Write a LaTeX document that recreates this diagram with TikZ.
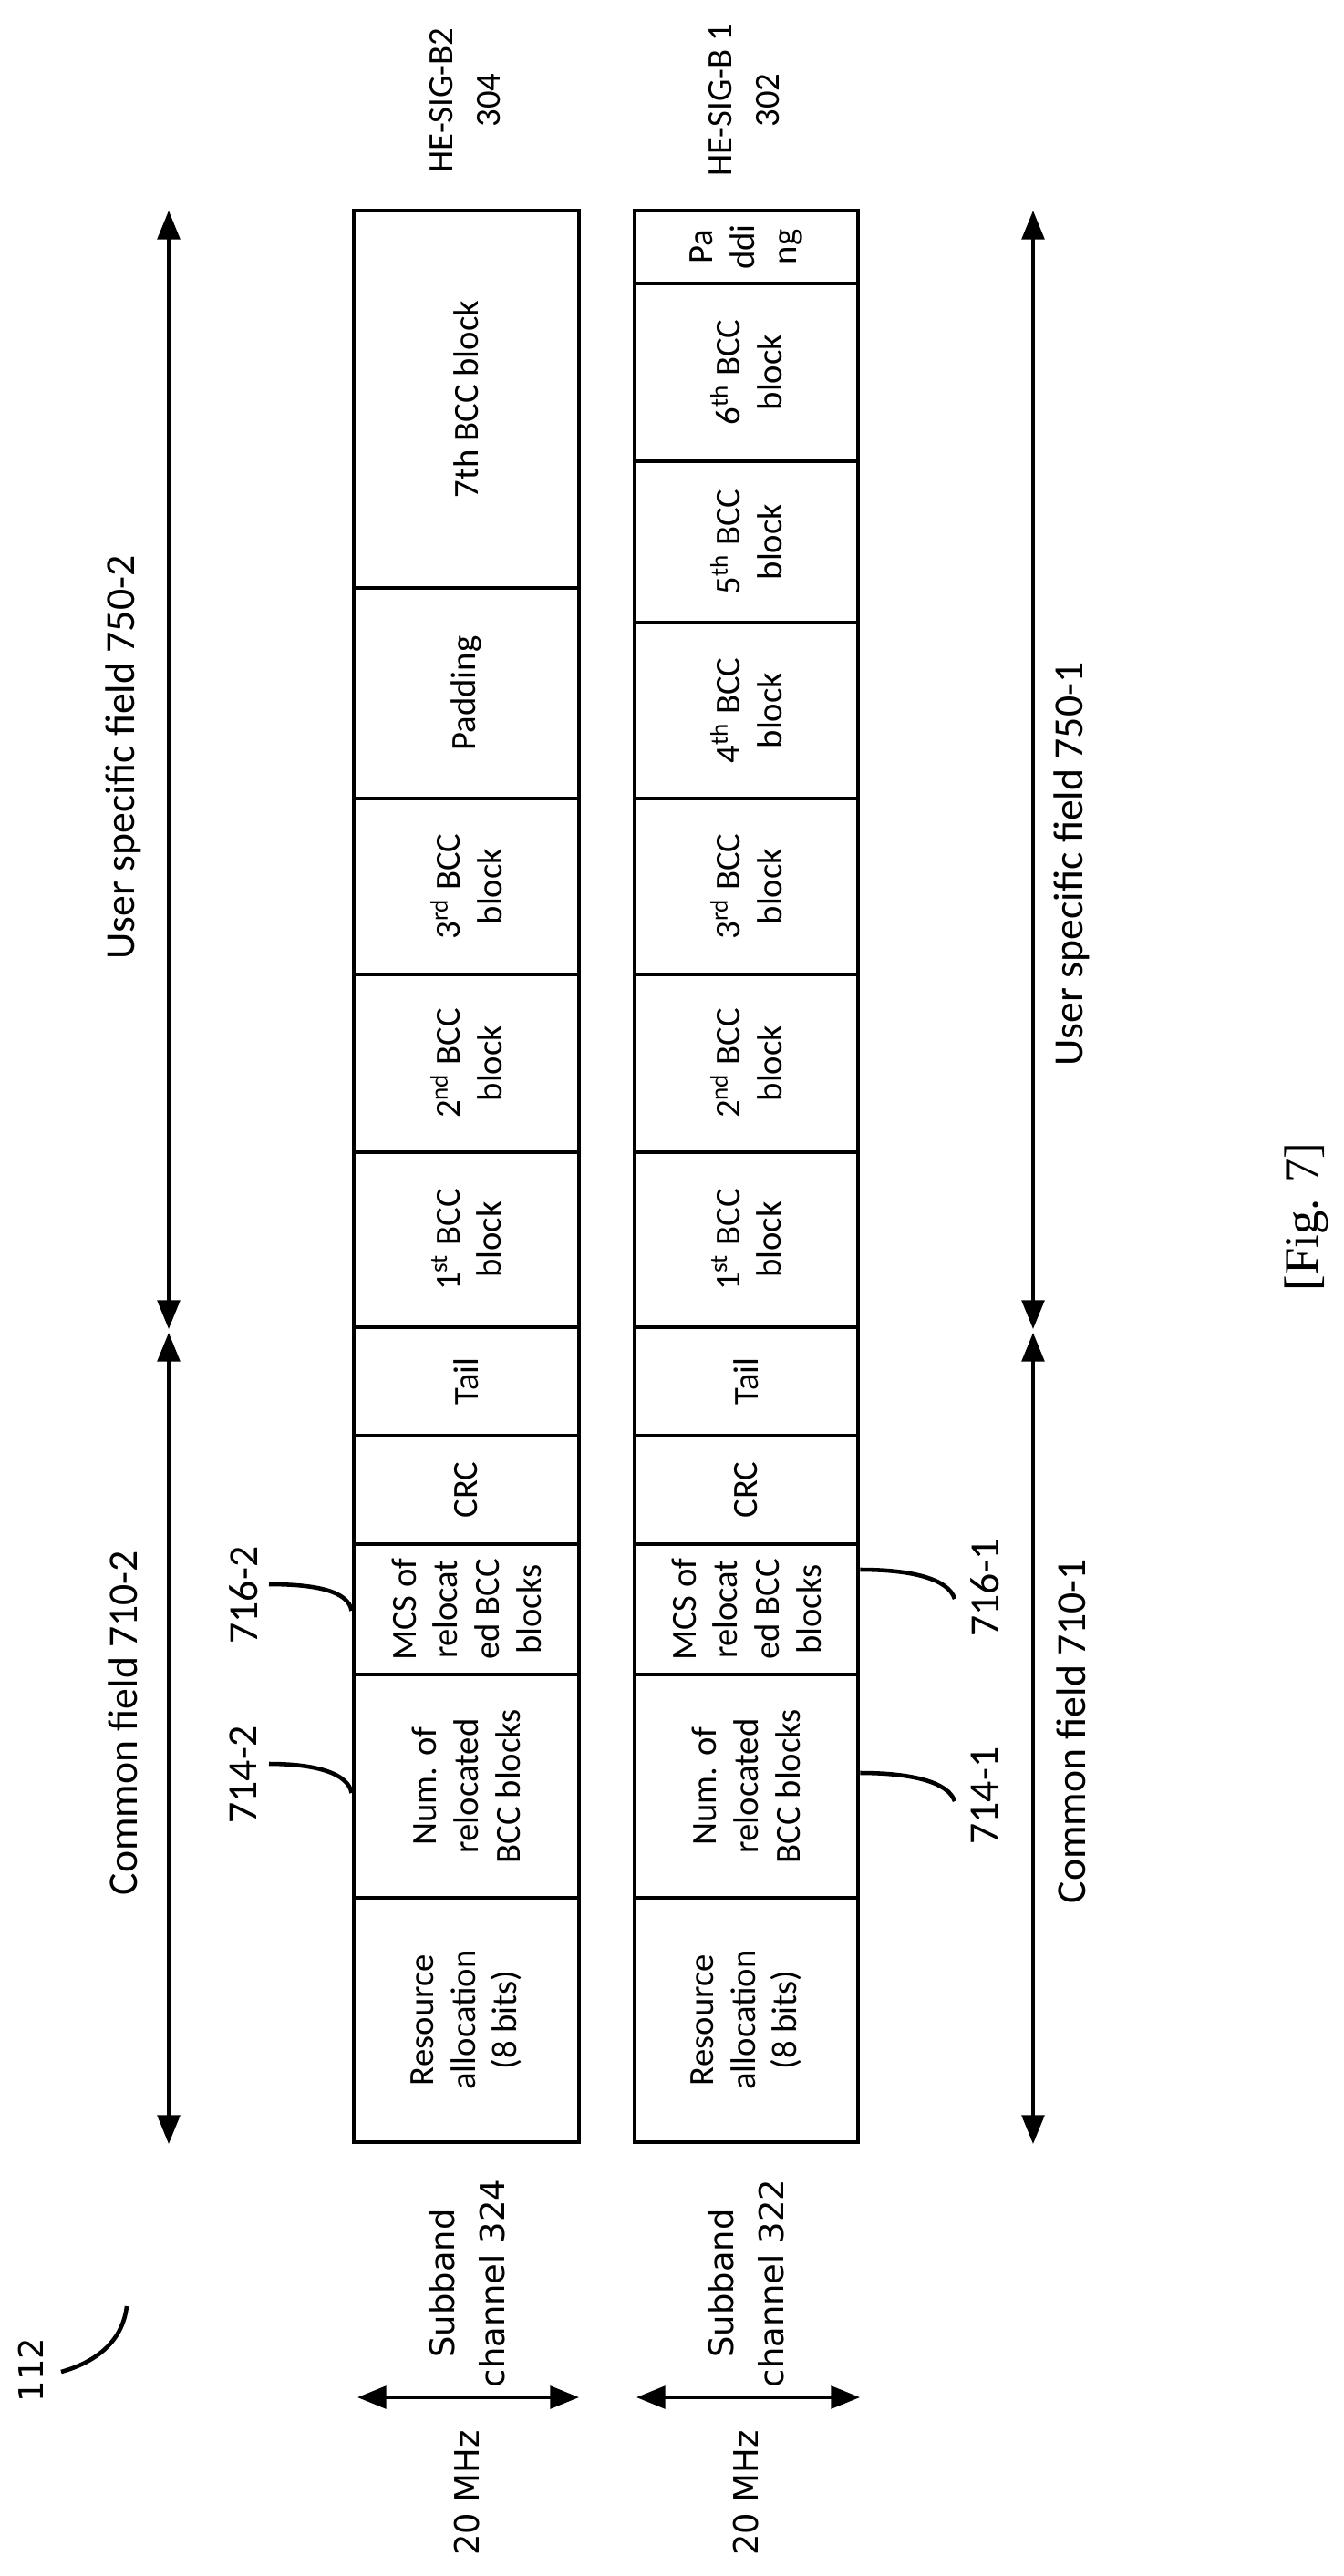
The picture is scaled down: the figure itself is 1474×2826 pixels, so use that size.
\documentclass[tikz,border=0pt]{standalone}
\usepackage{fontspec}
\setmainfont{Carlito}
\newfontfamily\figfont{Liberation Serif}
\newfontfamily\dvfont{DejaVu Sans}
\usetikzlibrary{arrows.meta}
\begin{document}
\begin{tikzpicture}[x=0.01cm,y=-0.01cm,
  cell/.style={draw,line width=1.4pt,inner sep=0pt},
  ctext/.style={rotate=90,align=center,font=\fontsize{11}{13}\selectfont},
  lbl/.style={rotate=90,align=center,font=\fontsize{13}{15}\selectfont},
  ttl/.style={rotate=90,align=center,font=\fontsize{11}{15}\selectfont},
  dv/.style={rotate=90,align=center,font=\dvfont\fontsize{10.5}{15.5}\selectfont},
  dim/.style={line width=1.1pt,{Triangle[width=7pt,length=9pt]}-{Triangle[width=7pt,length=9pt]}},
  lead/.style={line width=1.3pt}]
\useasboundingbox (0,0) rectangle (1474,2826);
\newcommand\cellbox[6]{%
  \node[cell,minimum width={(#3-#2)*0.01cm},minimum height={(#5-#4)*0.01cm}] (#1) at ({(#2+#3)/2},{(#4+#5)/2}) {};
  \node[ctext] at (#1.center) {#6};}
% HE-SIG-B2
\cellbox{ra2}{388}{635}{2082}{2350}{Resource\\allocation\\(8 bits)}
\cellbox{num2}{388}{635}{1837}{2082}{Num. of\\relocated\\BCC blocks}
\cellbox{mcs2}{388}{635}{1694}{1837}{MCS of\\relocat\\ed BCC\\blocks}
\cellbox{crc2}{388}{635}{1575}{1694}{CRC}
\cellbox{tail2}{388}{635}{1456}{1575}{Tail}
\cellbox{ba2}{388}{635}{1264}{1456}{1\textsuperscript{st} BCC\\block}
\cellbox{bb2}{388}{635}{1069}{1264}{2\textsuperscript{nd} BCC\\block}
\cellbox{bc2}{388}{635}{876}{1069}{3\textsuperscript{rd} BCC\\block}
\cellbox{pad2}{388}{635}{645}{876}{Padding}
\cellbox{bg2}{388}{635}{231}{645}{7th BCC block}
% HE-SIG-B1
\cellbox{ra1}{696}{941}{2082}{2350}{Resource\\allocation\\(8 bits)}
\cellbox{num1}{696}{941}{1837}{2082}{Num. of\\relocated\\BCC blocks}
\cellbox{mcs1}{696}{941}{1694}{1837}{MCS of\\relocat\\ed BCC\\blocks}
\cellbox{crc1}{696}{941}{1575}{1694}{CRC}
\cellbox{tail1}{696}{941}{1456}{1575}{Tail}
\cellbox{ba1}{696}{941}{1264}{1456}{1\textsuperscript{st} BCC\\block}
\cellbox{bb1}{696}{941}{1069}{1264}{2\textsuperscript{nd} BCC\\block}
\cellbox{bc1}{696}{941}{876}{1069}{3\textsuperscript{rd} BCC\\block}
\cellbox{bd1}{696}{941}{683}{876}{4\textsuperscript{th} BCC\\block}
\cellbox{be1}{696}{941}{506}{683}{5\textsuperscript{th} BCC\\block}
\cellbox{bf1}{696}{941}{311}{506}{6\textsuperscript{th} BCC\\block}
\cellbox{pad1}{696}{941}{231}{311}{Pa\\ddi\\ng}
% field arrows
\coordinate (u2a) at (185,231); \coordinate (u2b) at (185,1458);
\coordinate (c2a) at (185,1462); \coordinate (c2b) at (185,2352);
\coordinate (u1a) at (1133,231); \coordinate (u1b) at (1133,1458);
\coordinate (c1a) at (1133,1462); \coordinate (c1b) at (1133,2352);
\draw[dim] (u2a) -- (u2b);
\draw[dim] (c2a) -- (c2b);
\draw[dim] (u1a) -- (u1b);
\draw[dim] (c1a) -- (c1b);
\node[lbl] (lu2) at (135,831) {User specific field 750-2};
\node[lbl] (lc2) at (135,1890) {Common field 710-2};
\node[lbl] (lu1) at (1175,948) {User specific field 750-1};
\node[lbl] (lc1) at (1175,1899) {Common field 710-1};
% titles
\node[ttl] (t2) at (510,110) {HE-SIG-B2\\304};
\node[ttl] (t1) at (816,110) {HE-SIG-B 1\\302};
% reference leaders
\node[lbl] (r7162) at (267,1750) {716-2};
\node[lbl] (r7142) at (267,1947) {714-2};
\node[lbl] (r7161) at (1080,1742) {716-1};
\node[lbl] (r7141) at (1080,1970) {714-1};
\draw[lead] (295,1738) .. controls (345,1738) and (382,1745) .. (mcs2.west |- 0,1767);
\draw[lead] (295,1935) .. controls (345,1935) and (382,1945) .. (num2.west |- 0,1967);
\draw[lead] (mcs1.east |- 0,1722) .. controls (1000,1722) and (1040,1732) .. (1047,1754);
\draw[lead] (num1.east |- 0,1945) .. controls (1000,1945) and (1040,1955) .. (1047,1976);
% subband
\node[dv] (s2) at (512,2505) {Subband\\channel 324};
\node[dv] (s1) at (818,2505) {Subband\\channel 322};
\coordinate (w2a) at (392,2630); \coordinate (w2b) at (635,2630);
\coordinate (w1a) at (698,2630); \coordinate (w1b) at (943,2630);
\draw[dim] (w2a) -- (w2b);
\draw[dim] (w1a) -- (w1b);
\node[dv] (m2) at (512,2735) {20 MHz};
\node[dv] (m1) at (818,2735) {20 MHz};
% 112
\node[dv] (n112) at (34,2600) {112};
\draw[lead] (67,2602) .. controls (110,2590) and (135,2565) .. (139,2530);
% figure label
\node[rotate=90,font=\figfont\fontsize{15}{17}\selectfont] (fig) at (1433,1335) {[Fig. 7]};
\end{tikzpicture}
\end{document}
